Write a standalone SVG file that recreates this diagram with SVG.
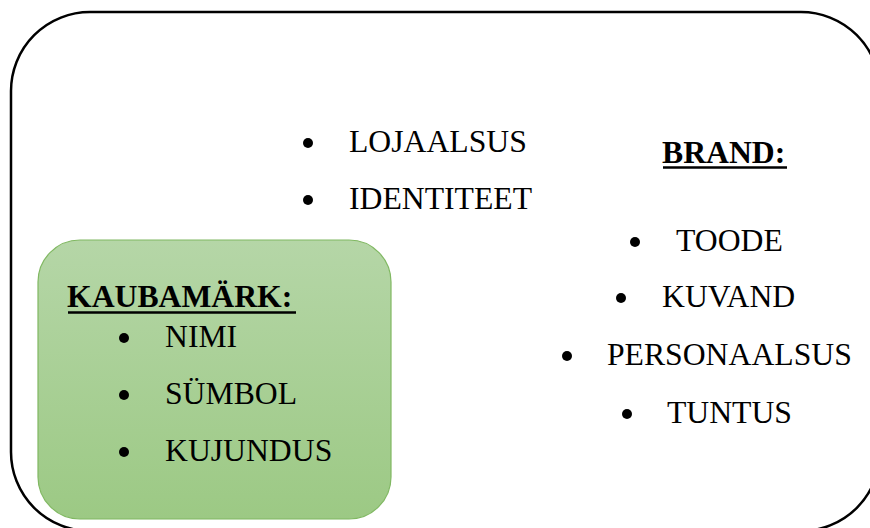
<svg xmlns="http://www.w3.org/2000/svg" width="870" height="528" viewBox="0 0 870 528">
<style>
.t{font-family:"Liberation Serif","Times New Roman",serif;font-size:31.7px;fill:#000}
.b{font-weight:bold}
.ul{stroke:#000;stroke-width:2.5}
.dot{fill:#000}
</style>
<defs>
<linearGradient id="g" x1="0" y1="0" x2="0" y2="1">
<stop offset="0" stop-color="#b5d6a7"/>
<stop offset="1" stop-color="#9cc984"/>
</linearGradient>
</defs>
<rect width="870" height="528" fill="#fff"/>
<g id="brand">
<rect x="11" y="12" width="869" height="519" rx="79" ry="79" fill="#fff" stroke="#000" stroke-width="2.5"/>
<text class="t b" x="662" y="163">BRAND:</text>
<line class="ul" x1="663" y1="167.5" x2="787" y2="167.5"/>
<circle class="dot" cx="308" cy="143" r="5"/><text class="t" x="349" y="152">LOJAALSUS</text>
<circle class="dot" cx="308" cy="200" r="5"/><text class="t" x="349" y="209">IDENTITEET</text>
<circle class="dot" cx="635" cy="242" r="5"/><text class="t" x="676" y="251">TOODE</text>
<circle class="dot" cx="621" cy="298" r="5"/><text class="t" x="662" y="307">KUVAND</text>
<circle class="dot" cx="567" cy="356" r="5"/><text class="t" x="607" y="365">PERSONAALSUS</text>
<circle class="dot" cx="627" cy="414" r="5"/><text class="t" x="667" y="423">TUNTUS</text>
</g>
<g id="kaubamark">
<rect x="38" y="240" width="353" height="279" rx="42" ry="42" fill="url(#g)" stroke="#80b862" stroke-width="1.2"/>
<text class="t b" x="67" y="307">KAUBAMÄRK:</text>
<line class="ul" x1="68" y1="312.5" x2="296" y2="312.5"/>
<circle class="dot" cx="124" cy="338" r="5"/><text class="t" x="165" y="347">NIMI</text>
<circle class="dot" cx="124" cy="395" r="5"/><text class="t" x="165" y="404">SÜMBOL</text>
<circle class="dot" cx="124" cy="452" r="5"/><text class="t" x="165" y="461">KUJUNDUS</text>
</g>
<g id="connectors"/>
</svg>
